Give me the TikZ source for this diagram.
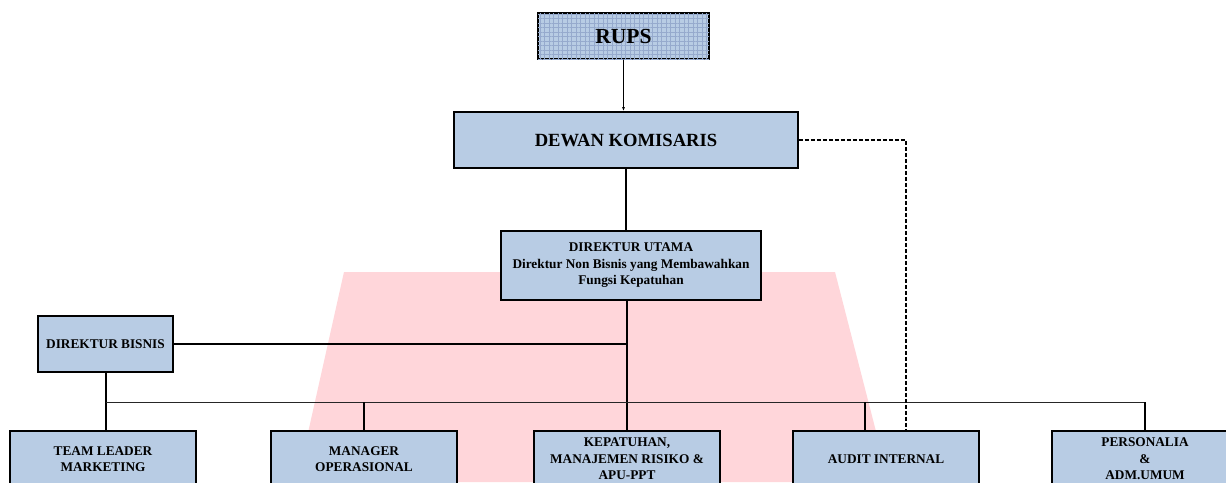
\documentclass[tikz,border=0pt]{standalone}
\usepackage{fontspec}
\setmainfont{Liberation Serif}
\usetikzlibrary{arrows.meta,patterns.meta}
\definecolor{boxblue}{RGB}{184,204,228}
\definecolor{marka}{RGB}{255,214,218}
\definecolor{gridblue}{RGB}{150,170,205}
\tikzstyle{unit}=[draw,line width=1.8pt,fill=boxblue,align=center,inner sep=2pt,font=\bfseries\fontsize{13.3}{16.5}\selectfont]
\tikzstyle{staff}=[unit,minimum width=186pt,minimum height=56pt]
\tikzstyle{link}=[line width=2pt]
\tikzstyle{rail}=[line width=1pt,black!85]

\begin{document}
\begin{tikzpicture}[x=1pt,y=-1pt]
\clip (0,0) rectangle (1226,482);
\fill[white] (0,0) rectangle (1226,482);
% watermark
\fill[marka] (344,272) -- (835,272) -- (889,482) -- (297,482) -- cycle;

% top
\node [unit,minimum width=171pt,minimum height=46pt,font=\bfseries\fontsize{21.5}{24}\selectfont,
  postaction={pattern={Lines[angle=0,distance=4.5pt,line width=0.5pt]},pattern color=gridblue},
  postaction={pattern={Lines[angle=90,distance=4.5pt,line width=0.5pt]},pattern color=gridblue}] (rups) at (623.5,36) {RUPS};
\node [unit,minimum width=344pt,minimum height=56pt,font=\bfseries\fontsize{18.6}{22}\selectfont] (dk) at (626,140) {DEWAN KOMISARIS};
\node [unit,minimum width=260pt,minimum height=69pt] (du) at (631,265.5)
  {DIREKTUR UTAMA\\Direktur Non Bisnis yang Membawahkan\\Fungsi Kepatuhan};
\node [unit,minimum width=135pt,minimum height=56pt] (db) at (105.5,344) {DIREKTUR BISNIS};

% staff
\node [staff] (tlm) at (103,459) {TEAM LEADER\\MARKETING};
\node [staff] (mgr) at (364,459) {MANAGER\\OPERASIONAL};
\node [staff] (kep) at (627,459) {KEPATUHAN,\\MANAJEMEN RISIKO \&\\APU-PPT};
\node [staff] (aud) at (886,459) {AUDIT INTERNAL};
\node [staff] (pers) at (1145,459) {PERSONALIA\\\&\\ADM.UMUM};
\coordinate (bar) at (0,402);

% connectors
\draw [line width=1pt,-{Latex[length=4pt,width=3pt]}] (rups.south) -- (rups.south |- dk.north);
\draw [link] (dk.south) -- (dk.south |- du.north);
\draw [link] (du.south -| kep.north) -- (kep.north);
\draw [link] (db.east) -- (db.east -| kep.north);
\draw [link] (db.south) -- (db.south |- tlm.north);
\draw [rail] (db.south |- bar) -- (pers.north |- bar);
\draw [link] (mgr.north |- bar) -- (mgr.north);
\draw [link] ([xshift=-21pt]aud.north |- bar) -- ([xshift=-21pt]aud.north);
\draw [link] (pers.north |- bar) -- (pers.north);
\draw [line width=1.6pt,dash pattern=on 4pt off 2pt] (dk.east) -| ([xshift=20pt]aud.north);
\end{tikzpicture}
\end{document}
